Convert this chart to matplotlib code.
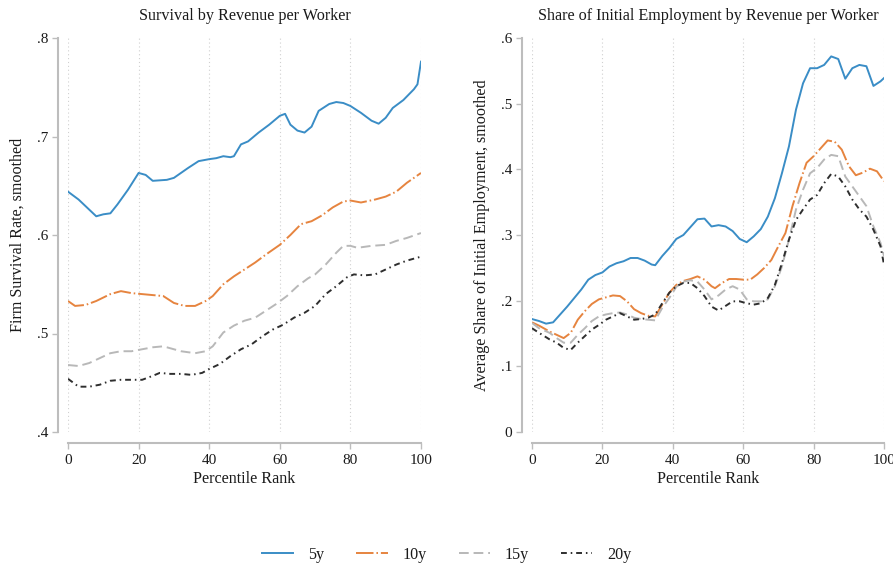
import numpy as np
import matplotlib
matplotlib.use("Agg")
import matplotlib.pyplot as plt

# ==========================================================
# Data
# ==========================================================

# --- left panel: survival rate ---
x_surv_5 = [0, 3, 8, 10, 12, 14, 17, 20, 22, 24, 28, 30, 34, 37, 40, 42, 44, 46, 47, 49,
            51, 54, 57, 60, 61.5, 63, 65, 67, 69, 71, 74, 76, 78, 80, 83, 86, 88, 90, 92,
            95, 98, 99, 100]
surv_5 = [0.644, 0.636, 0.619, 0.621, 0.622, 0.631, 0.646, 0.663, 0.661, 0.655, 0.656,
          0.658, 0.668, 0.675, 0.677, 0.678, 0.680, 0.679, 0.680, 0.692, 0.695, 0.704,
          0.712, 0.721, 0.723, 0.712, 0.706, 0.704, 0.710, 0.726, 0.733, 0.735, 0.734,
          0.731, 0.724, 0.716, 0.713, 0.719, 0.729, 0.737, 0.748, 0.753, 0.776]

x_surv_10 = [0, 2, 5, 8, 12, 15, 18, 21, 24, 27, 30, 33, 36, 39, 41, 44, 47, 50, 53, 56,
             60, 63, 66, 69, 72, 75, 78, 80, 83, 87, 90, 93, 96, 100]
surv_10 = [0.533, 0.528, 0.529, 0.533, 0.540, 0.543, 0.541, 0.540, 0.539, 0.538, 0.531,
           0.528, 0.528, 0.533, 0.538, 0.550, 0.558, 0.565, 0.572, 0.580, 0.590, 0.600,
           0.611, 0.614, 0.620, 0.628, 0.634, 0.635, 0.633, 0.636, 0.639, 0.644, 0.653,
           0.663]

x_surv_15 = [0, 3, 6, 9, 12, 15, 18, 21, 24, 27, 29, 32, 36, 39, 41, 44, 47, 50, 53, 56,
             59, 62, 65, 68, 70, 73, 76, 78, 80, 82, 86, 90, 93, 96, 100]
surv_15 = [0.468, 0.467, 0.470, 0.475, 0.480, 0.482, 0.482, 0.484, 0.486, 0.487, 0.485,
           0.482, 0.480, 0.482, 0.487, 0.501, 0.508, 0.513, 0.516, 0.523, 0.530, 0.538,
           0.548, 0.556, 0.560, 0.570, 0.582, 0.589, 0.589, 0.587, 0.589, 0.590, 0.594,
           0.597, 0.602]

x_surv_20 = [0, 3, 6, 9, 12, 15, 18, 21, 24, 26, 29, 32, 35, 38, 40, 43, 46, 49, 52, 55,
             58, 61, 64, 67, 70, 73, 76, 79, 81, 84, 87, 90, 93, 96, 100]
surv_20 = [0.454, 0.446, 0.446, 0.448, 0.452, 0.453, 0.453, 0.453, 0.457, 0.460, 0.459,
           0.459, 0.458, 0.460, 0.464, 0.469, 0.477, 0.484, 0.489, 0.497, 0.504, 0.509,
           0.516, 0.521, 0.528, 0.540, 0.548, 0.557, 0.560, 0.559, 0.560, 0.565, 0.570,
           0.574, 0.578]

# --- right panel: share of initial employment ---
x_emp = [0, 2, 4, 6, 8, 10, 12, 14, 16, 18, 20, 22, 24, 26, 28, 30, 32, 34, 35, 37, 39,
         41, 43, 45, 47, 49, 51, 53, 55, 57, 59, 61, 63, 65, 67, 69, 71, 73, 75, 77, 79,
         81, 83, 85, 87, 89, 91, 93, 95, 97, 99, 100]
emp_5 = [0.172, 0.169, 0.165, 0.167, 0.179, 0.191, 0.204, 0.217, 0.232, 0.239, 0.243,
         0.252, 0.257, 0.260, 0.265, 0.265, 0.261, 0.255, 0.254, 0.268, 0.280, 0.294,
         0.300, 0.312, 0.324, 0.325, 0.313, 0.315, 0.313, 0.306, 0.294, 0.289, 0.298,
         0.309, 0.328, 0.356, 0.394, 0.435, 0.491, 0.531, 0.554, 0.554, 0.559, 0.572,
         0.568, 0.538, 0.554, 0.559, 0.557, 0.527, 0.534, 0.539]

x_emp_10 = [0, 2, 5, 7, 9, 11, 13, 15, 17, 19, 21, 23, 25, 27, 29, 31, 33, 35, 37, 39,
            41, 43, 45, 47, 49, 51, 52, 54, 56, 58, 60, 62, 64, 66, 68, 70, 72, 74, 76,
            78, 80, 82, 84, 86, 88, 90, 92, 94, 96, 98, 100]
emp_10 = [0.167, 0.162, 0.153, 0.148, 0.143, 0.151, 0.171, 0.184, 0.195, 0.202, 0.205,
          0.208, 0.207, 0.199, 0.187, 0.181, 0.177, 0.176, 0.194, 0.212, 0.224, 0.230,
          0.233, 0.237, 0.232, 0.222, 0.219, 0.227, 0.233, 0.233, 0.232, 0.232, 0.240,
          0.250, 0.262, 0.283, 0.303, 0.344, 0.379, 0.410, 0.420, 0.432, 0.444, 0.442,
          0.430, 0.405, 0.391, 0.395, 0.401, 0.397, 0.382]

x_emp_ld = [0, 2, 5, 7, 9, 11, 13, 15, 17, 19, 21, 23, 25, 27, 29, 31, 33, 35, 37, 39,
            41, 43, 45, 47, 49, 51, 53, 55, 57, 59, 61, 63, 65, 67, 69, 71, 73, 75, 77,
            79, 81, 83, 85, 87, 89, 91, 93, 95, 97, 99, 100]
emp_15 = [0.166, 0.158, 0.151, 0.143, 0.136, 0.136, 0.148, 0.158, 0.169, 0.176, 0.179,
          0.181, 0.182, 0.179, 0.174, 0.172, 0.171, 0.170, 0.189, 0.204, 0.221, 0.229,
          0.231, 0.229, 0.217, 0.202, 0.208, 0.217, 0.222, 0.217, 0.202, 0.199, 0.199,
          0.202, 0.222, 0.252, 0.293, 0.339, 0.369, 0.394, 0.402, 0.415, 0.422, 0.420,
          0.389, 0.374, 0.359, 0.344, 0.313, 0.288, 0.268]
emp_20 = [0.158, 0.151, 0.141, 0.136, 0.128, 0.125, 0.136, 0.146, 0.156, 0.163, 0.171,
          0.176, 0.181, 0.176, 0.171, 0.172, 0.174, 0.179, 0.196, 0.212, 0.222, 0.227,
          0.227, 0.219, 0.207, 0.191, 0.185, 0.192, 0.199, 0.199, 0.196, 0.194, 0.196,
          0.204, 0.224, 0.257, 0.293, 0.323, 0.339, 0.354, 0.361, 0.379, 0.393, 0.389,
          0.374, 0.354, 0.339, 0.328, 0.308, 0.283, 0.255]

labels = ["5y", "10y", "15y", "20y"]
x_ticks = [0, 20, 40, 60, 80, 100]

# ==========================================================
# Plot style
# ==========================================================

plt.rcParams.update({
    "font.family": "Liberation Serif",
    "font.size": 11,
})

colors_ = ["#3a8dc6", "#e6843f", "#b8b8b8", "#2e2e2e"]
styles = [
    dict(ls="-"),
    dict(dashes=(9, 1.5, 0.8, 1.5)),
    dict(dashes=(5, 2.5)),
    dict(dashes=(3, 2, 0.8, 2)),
]
lw = 1.4
spine_col = "#bdbdbd"
text_col = "#1a1a1a"
fs_lab = 11.6

W, H = 893, 570
fig = plt.figure(figsize=(W / 100, H / 100), dpi=100)


def px_axes(x0, x1, y0, y1):
    return fig.add_axes([x0 / W, 1 - y1 / H, (x1 - x0) / W, (y1 - y0) / H])


def style_axes(ax, ylo, yhi, yticks, ytlabels):
    ax.set_xlim(0, 100)
    ax.set_ylim(ylo, yhi)
    for s in ["top", "right"]:
        ax.spines[s].set_visible(False)
    ax.spines["left"].set_position(("outward", 7.2))
    ax.spines["bottom"].set_position(("outward", 7.9))
    for s in ["left", "bottom"]:
        ax.spines[s].set_color(spine_col)
        ax.spines[s].set_linewidth(1.5)
    ax.spines["left"].set_bounds(ylo, yhi)
    ax.spines["bottom"].set_bounds(0, 100)
    ax.set_xticks(x_ticks)
    ax.set_yticks(yticks)
    ax.set_yticklabels(ytlabels)
    ax.tick_params(colors=spine_col, labelcolor=text_col, length=4, width=1,
                   labelsize=11)
    ax.tick_params(axis="y", pad=3)
    ax.tick_params(axis="x", pad=4)
    ax.grid(axis="x", ls=(0, (1, 2.5)), color="#d0d0d0", lw=0.8)
    ax.set_axisbelow(True)
    ax.set_xlabel("Percentile Rank", fontsize=fs_lab, color=text_col, labelpad=3)


# ==========================================================
# (a) Survival
# ==========================================================

ax1 = px_axes(68, 421, 38, 432)
series1 = [(x_surv_5, surv_5), (x_surv_10, surv_10), (x_surv_15, surv_15), (x_surv_20, surv_20)]
handles = []
for (xx, yy), c, st, lab in zip(series1, colors_, styles, labels):
    h, = ax1.plot(xx, yy, color=c, lw=lw, label=lab, **st)
    handles.append(h)
style_axes(ax1, 0.4, 0.8, [0.4, 0.5, 0.6, 0.7, 0.8], [".4", ".5", ".6", ".7", ".8"])
ax1.set_ylabel("Firm Survival Rate, smoothed", fontsize=fs_lab, color=text_col, labelpad=8)
ax1.set_title("Survival by Revenue per Worker", fontsize=fs_lab, color=text_col, pad=13)

# ==========================================================
# (b) Share of initial employment
# ==========================================================

ax2 = px_axes(532, 884, 38, 432)
series2 = [(x_emp, emp_5), (x_emp_10, emp_10), (x_emp_ld, emp_15), (x_emp_ld, emp_20)]
for (xx, yy), c, st, lab in zip(series2, colors_, styles, labels):
    ax2.plot(xx, yy, color=c, lw=lw, label=lab, **st)
style_axes(ax2, 0, 0.6, [0, 0.1, 0.2, 0.3, 0.4, 0.5, 0.6], ["0", ".1", ".2", ".3", ".4", ".5", ".6"])
ax2.set_ylabel("Average Share of Initial Employment, smoothed", fontsize=fs_lab,
               color=text_col, labelpad=8)
ax2.set_title("Share of Initial Employment by Revenue per Worker", fontsize=fs_lab,
              color=text_col, pad=13)

# ==========================================================
# Legend
# ==========================================================

leg = fig.legend(handles=handles, labels=labels, loc="center", ncol=4,
                 bbox_to_anchor=(0.5, 1 - 555 / H), frameon=False,
                 handlelength=1.95, handletextpad=0.9, columnspacing=2.0,
                 fontsize=fs_lab)
for t in leg.get_texts():
    t.set_color(text_col)

fig.savefig("out.png", dpi=100, facecolor="white")
